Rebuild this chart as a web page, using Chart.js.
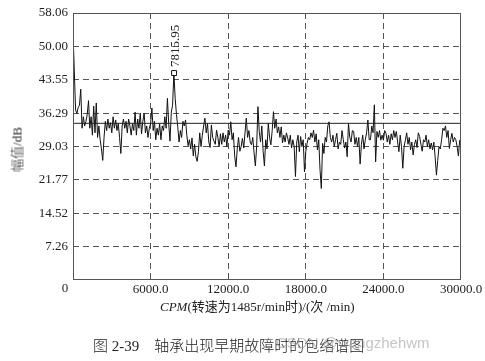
<!DOCTYPE html>
<html>
<head>
<meta charset="utf-8">
<script src="https://cdn.jsdelivr.net/npm/chart.js@4.4.1/dist/chart.umd.min.js"></script>
<style>
  html,body{margin:0;padding:0;background:#fff;}
  #wrap{position:relative;width:485px;height:361px;overflow:hidden;}
  canvas{position:absolute;left:0;top:0;}
  .txt{position:absolute;white-space:nowrap;color:#222;font-family:"Liberation Serif","Noto Sans CJK SC",serif;}
  #xt{left:160px;top:296px;font-size:13px;}
  #yt{left:-14px;top:140px;font-size:13px;transform:rotate(-90deg);transform-origin:center;width:60px;text-align:center;font-weight:300;}
  #cap{left:93px;top:334px;font-size:15px;font-weight:300;}
  #wm{left:276px;top:334px;font-size:15px;color:rgba(150,150,150,0.55);font-family:"Liberation Sans","DejaVu Sans",sans-serif;}
</style>
</head>
<body>
<div id="wrap">
<canvas id="c" width="485" height="361"></canvas>
<div class="txt" id="xt"><i>CPM</i>(转速为1485r/min时)/(次 /min)</div>
<div class="txt" id="yt">幅值/dB</div>
<div class="txt" id="cap">图 2-39&nbsp;&nbsp;&nbsp;&nbsp;轴承出现早期故障时的包络谱图</div>
<div class="txt" id="wm">CSDN @wangzhehwm</div>
</div>
<script>
// ---- data ----
const cpmStep = 100; // CPM spacing of the spectrum samples
const amplitudeDb = [
 54.0, 45.5, 37.0, 36.2, 37.5, 38.0, 41.5, 33.0, 35.5, 33.5,
 34.5, 36.0, 39.0, 33.0, 35.5, 31.5, 37.8, 32.0, 38.5, 31.0,
 33.5, 30.5, 28.5, 26.0, 31.0, 34.5, 32.5, 35.0, 33.0, 34.2,
 32.0, 35.5, 33.0, 34.8, 32.5, 34.0, 31.0, 27.5, 33.5, 35.0,
 33.0, 34.5, 32.0, 35.0, 33.5, 31.5, 34.0, 32.5, 36.5, 31.5,
 35.0, 33.0, 36.3, 31.8, 34.5, 36.3, 32.0, 33.5, 31.0, 33.0,
 34.0, 37.4, 32.5, 34.5, 30.5, 33.0, 31.5, 34.0, 30.5, 33.5,
 32.5, 35.5, 33.0, 39.5, 34.0, 30.2, 36.5, 38.0, 45.0, 39.5,
 36.0, 33.3, 30.0, 32.5, 31.0, 34.5, 33.5, 34.8, 31.5, 29.2,
 30.5, 28.5, 30.9, 27.0, 29.5, 26.8, 25.8, 28.0, 32.0, 29.0,
 31.5, 33.5, 35.2, 32.0, 34.0, 30.0, 28.8, 33.7, 31.0, 30.2,
 29.5, 32.6, 31.0, 29.0, 31.8, 29.5, 32.0, 30.0, 31.5, 29.0,
 32.6, 31.5, 34.4, 30.5, 32.0, 27.0, 24.6, 28.5, 31.0, 28.0,
 29.0, 30.8, 28.7, 32.0, 35.2, 31.0, 32.5, 30.0, 29.4, 31.0,
 27.6, 24.8, 29.0, 37.7, 32.3, 30.0, 33.5, 28.0, 24.8, 30.5,
 28.5, 34.1, 31.0, 29.4, 32.5, 36.6, 33.0, 35.0, 32.0, 33.3,
 31.0, 33.3, 29.8, 31.5, 30.0, 32.0, 30.9, 29.5, 31.5, 28.7,
 30.5, 29.0, 22.5, 30.0, 31.5, 27.9, 31.2, 29.0, 30.5, 23.5,
 28.0, 29.7, 31.0, 30.5, 32.0, 31.0, 32.6, 30.0, 31.8, 28.3,
 30.5, 24.0, 19.9, 29.7, 27.5, 31.0, 30.0, 33.5, 34.4, 31.0,
 30.0, 31.5, 29.0, 30.5, 31.9, 28.5, 30.0, 29.5, 32.5, 30.5,
 28.7, 30.0, 26.8, 34.1, 31.0, 30.0, 32.5, 32.3, 29.5, 31.0,
 29.0, 31.0, 25.2, 29.5, 31.5, 28.5, 30.5, 32.0, 34.8, 30.5,
 30.5, 33.5, 32.0, 38.1, 25.7, 32.3, 31.0, 32.5, 30.4, 31.5,
 30.4, 32.5, 31.9, 30.0, 31.5, 29.5, 31.8, 30.5, 32.5, 31.0,
 32.3, 30.0, 27.9, 31.5, 29.0, 24.3, 29.0, 30.4, 32.0, 29.5,
 31.0, 28.3, 30.0, 27.2, 29.5, 30.5, 28.8, 32.0, 31.2, 29.5,
 28.0, 30.5, 30.0, 31.5, 29.0, 30.5, 28.5, 29.8, 28.3, 30.0,
 26.8, 22.8, 26.0, 29.0, 28.5, 30.5, 33.0, 32.5, 33.5, 31.0,
 32.5, 28.6, 30.5, 31.9, 30.0, 31.0, 30.5, 29.0, 27.0, 30.4, 30.0
];
const thresholdDb = 34.07;
const peakCpm = 7815.95;
const peakDb = 45.0;
const peakLabel = "7815.95";
const xTickValues = [0, 6000, 12000, 18000, 24000, 30000];
const xTickLabels = ["0", "6000.0", "12000.0", "18000.0", "24000.0", "30000.0"];
const yTickValues = [0, 7.2575, 14.515, 21.7725, 29.03, 36.2875, 43.545, 50.8025, 58.06];
const yTickLabels = ["", "7.26", "14.52", "21.77", "29.03", "36.29", "43.55", "50.00", "58.06"];

const spectrumPts = amplitudeDb.map((v, i) => ({x: i * cpmStep, y: v}));
const xMax = xTickValues[xTickValues.length - 1];
const yMax = yTickValues[yTickValues.length - 1];

const frame = {
  id: 'frame',
  afterDatasetsDraw(chart) {
    const {ctx, chartArea: a, scales} = chart;
    ctx.save();
    ctx.strokeStyle = '#555';
    ctx.lineWidth = 1;
    ctx.strokeRect(a.left + 0.5, a.top + 0.5, a.right - a.left - 1, a.bottom - a.top - 1);
    // origin label, set left of the corner as in the original
    ctx.fillStyle = '#222';
    ctx.font = '13px "Liberation Serif", serif';
    ctx.textAlign = 'center';
    ctx.textBaseline = 'top';
    ctx.fillText(xTickLabels[0], scales.x.getPixelForValue(xTickValues[0]) - 8, a.bottom + 2);
    // peak label
    const px = scales.x.getPixelForValue(peakCpm);
    const py = scales.y.getPixelForValue(peakDb);
    ctx.translate(px + 1, py - 6);
    ctx.rotate(-Math.PI / 2);
    ctx.textAlign = 'left';
    ctx.textBaseline = 'middle';
    ctx.fillText(peakLabel, 0, 0);
    ctx.restore();
  }
};

new Chart(document.getElementById('c'), {
  type: 'scatter',
  data: {
    datasets: [
      {data: spectrumPts, showLine: true, borderColor: '#111', borderWidth: 1, pointRadius: 0, tension: 0, order: 2},
      {data: [{x: 0, y: thresholdDb}, {x: xMax, y: thresholdDb}], showLine: true, borderColor: '#222', borderWidth: 1, pointRadius: 0, order: 1},
      {data: [{x: peakCpm, y: peakDb}], showLine: false, pointStyle: 'rect', pointRadius: 3.5, borderColor: '#111', borderWidth: 1, backgroundColor: '#fff', order: 0}
    ]
  },
  options: {
    responsive: false,
    animation: false,
    events: [],
    layout: {padding: {left: 0, right: 24, top: 13, bottom: 0}},
    plugins: {legend: {display: false}, tooltip: {enabled: false}},
    scales: {
      x: {
        type: 'linear', min: 0, max: xMax,
        afterBuildTicks(s) { s.ticks = xTickValues.map(v => ({value: v})); },
        afterFit(s) { s.height = 81; },
        ticks: {
          autoSkip: false, maxRotation: 0, padding: 2, color: '#222',
          font: {family: '"Liberation Serif", serif', size: 13},
          callback: (v) => v === xTickValues[0] ? '' : xTickLabels[xTickValues.indexOf(v)]
        },
        grid: {
          drawTicks: false,
          color: (c) => (c.tick && (c.tick.value === 0 || c.tick.value === xMax)) ? 'rgba(0,0,0,0)' : '#555'
        },
        border: {display: false, dash: [6, 4]}
      },
      y: {
        type: 'linear', min: 0, max: yMax,
        afterBuildTicks(s) { s.ticks = yTickValues.map(v => ({value: v})); },
        afterFit(s) { s.width = 73; },
        ticks: {
          autoSkip: false, padding: 5, color: '#222',
          font: {family: '"Liberation Serif", serif', size: 13},
          callback: (v) => yTickLabels[yTickValues.indexOf(v)]
        },
        grid: {
          drawTicks: false,
          color: (c) => (c.tick && (c.tick.value === 0 || c.tick.value === yMax)) ? 'rgba(0,0,0,0)' : '#555'
        },
        border: {display: false, dash: [6, 4]}
      }
    }
  },
  plugins: [frame]
});
</script>
</body>
</html>
